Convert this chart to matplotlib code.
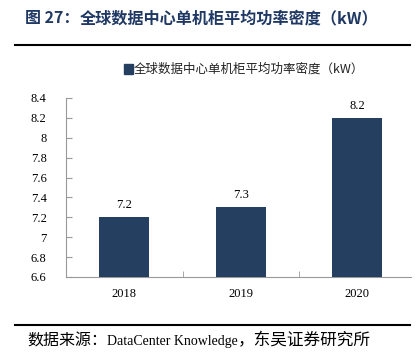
import matplotlib
matplotlib.use("Agg")
import matplotlib.pyplot as plt
from matplotlib.lines import Line2D

categories = ["2018", "2019", "2020"]
values = [7.2, 7.3, 8.2]
yticks = [6.6, 6.8, 7.0, 7.2, 7.4, 7.6, 7.8, 8.0, 8.2, 8.4]
ytick_labels = ["6.6", "6.8", "7", "7.2", "7.4", "7.6", "7.8", "8", "8.2", "8.4"]
title_parts = ["图 27：", "全球数据中心单机柜平均功率密度（kW）"]
legend_label = "全球数据中心单机柜平均功率密度（kW）"
source_parts = ["数据来源：", "DataCenter Knowledge", "，东吴证券研究所"]

serif = ["Liberation Serif", "Noto Sans CJK SC"]
cjk = ["Noto Sans CJK SC", "DejaVu Sans"]
bar_color = "#243f60"
navy = "#1f3864"

fig = plt.figure(figsize=(4.2, 3.6), dpi=100)
W, H = 420, 360
renderer = fig.canvas.get_renderer()


def seq_text(x0, y, parts):
    x = x0
    for s, kw in parts:
        t = fig.text(x / W, 1 - y / H, s, va="center", ha="left", **kw)
        bb = t.get_window_extent(renderer)
        x = bb.x1


ax = fig.add_axes([66 / W, 1 - 277 / H, (411 - 66) / W, (277 - 98) / H])

x = list(range(len(categories)))
ax.bar(x, values, width=0.43, color=bar_color, zorder=3)
ax.set_ylim(6.6, 8.4)
ax.set_xlim(-0.5, 2.46)
ax.set_yticks(yticks)
ax.set_yticklabels(ytick_labels, family=serif, fontsize=9)
ax.set_xticks(x)
ax.set_xticklabels(categories, family=serif, fontsize=9)
ax.set_xticks([0.5, 1.5], minor=True)
ax.tick_params(axis="x", which="major", length=0, pad=8)
ax.tick_params(axis="x", which="minor", direction="in", length=4, color="#999999")
ax.tick_params(axis="y", direction="in", length=4, color="#999999", pad=14)
for s in ["top", "right"]:
    ax.spines[s].set_visible(False)
for s in ["left", "bottom"]:
    ax.spines[s].set_color("#999999")
    ax.spines[s].set_linewidth(0.8)

for xi, v in zip(x, values):
    ax.text(xi, v + 0.06, f"{v:.1f}", ha="center", va="bottom", family=serif, fontsize=9)

# legend
fig.patches.append(plt.Rectangle((124 / W, 1 - 74 / H), 9 / W, 10 / H,
                                 transform=fig.transFigure, color=bar_color))
fig.text(134 / W, 1 - 69 / H, legend_label, family=cjk, fontsize=9, va="center", ha="left",
         color="#222222")

# title
seq_text(25, 18, [(title_parts[0], dict(family=cjk, fontsize=11.5, fontweight="bold", color=navy)),
                  (title_parts[1], dict(family=cjk, fontsize=11.6, fontweight="bold", color=navy))])
fig.add_artist(Line2D([15 / W, 410 / W], [1 - 45 / H, 1 - 45 / H], color="black", lw=1.5,
                      transform=fig.transFigure))
fig.add_artist(Line2D([15 / W, 410 / W], [1 - 325 / H, 1 - 325 / H], color="black", lw=1.5,
                      transform=fig.transFigure))
seq_text(27, 341, [(source_parts[0], dict(family=cjk, fontsize=11.5)),
                   (source_parts[1], dict(family=serif, fontsize=10)),
                   (source_parts[2], dict(family=cjk, fontsize=12))])

fig.savefig("out.png", dpi=100)
